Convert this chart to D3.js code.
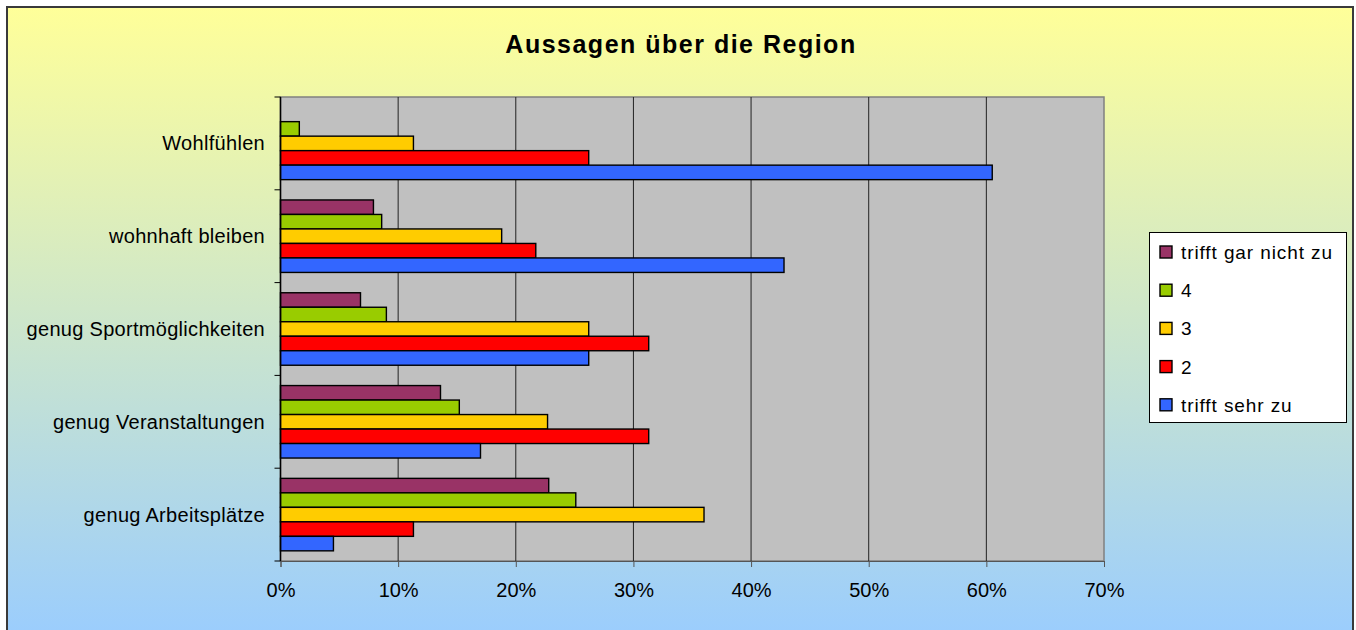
<!DOCTYPE html>
<html lang="de">
<head>
<meta charset="UTF-8">
<title>Aussagen über die Region</title>
<script src="https://cdn.jsdelivr.net/npm/d3@7"></script>
<style>
  body { margin: 0; background: #fff; }
  text { font-family: "Liberation Sans", Arial, sans-serif; fill: #000; }
</style>
</head>
<body>
<script>
// categories top to bottom
const categories = ["Wohlfühlen", "wohnhaft bleiben", "genug Sportmöglichkeiten", "genug Veranstaltungen", "genug Arbeitsplätze"];
// series, in legend order (top bar in each group first)
const seriesNames = ["trifft gar nicht zu", "4", "3", "2", "trifft sehr zu"];
const seriesColors = ["#993366", "#99CC00", "#FFCC00", "#FF0000", "#3366FF"];
// percent values per series, same order as categories
const garNicht = [0, 7.9, 6.8, 13.6, 22.8];
const vier = [1.6, 8.6, 9.0, 15.2, 25.1];
const drei = [11.3, 18.8, 26.2, 22.7, 36.0];
const zwei = [26.2, 21.7, 31.3, 31.3, 11.3];
const sehr = [60.5, 42.8, 26.2, 17.0, 4.5];
const seriesValues = [garNicht, vier, drei, zwei, sehr];
const xTicks = [0, 10, 20, 30, 40, 50, 60, 70];

const width = 1356, height = 630;
const plot = { left: 280.5, right: 1104, top: 97, bottom: 561 };

const svg = d3.select("body").append("svg")
  .attr("width", width).attr("height", height);

// background gradient
const grad = svg.append("defs").append("linearGradient")
  .attr("id", "bg").attr("x1", 0).attr("y1", 0).attr("x2", 0).attr("y2", 1);
grad.append("stop").attr("offset", "0%").attr("stop-color", "#FFFF99");
grad.append("stop").attr("offset", "100%").attr("stop-color", "#99CCFF");

svg.append("rect").attr("x", 7).attr("y", 7).attr("width", 1346).attr("height", 640)
  .attr("fill", "url(#bg)").attr("stroke", "#3a3a3a").attr("stroke-width", 2);

svg.append("text")
  .attr("x", 681).attr("y", 53)
  .attr("text-anchor", "middle")
  .style("font-size", "25px").style("font-weight", "bold").style("letter-spacing", "1.5px")
  .text("Aussagen über die Region");

const x = d3.scaleLinear().domain([0, 70]).range([plot.left, plot.right]);
const y = d3.scaleBand().domain(categories).range([plot.top, plot.bottom])
  .paddingInner(0.219).paddingOuter(0.1095);
const ySub = d3.scaleBand().domain(seriesNames).range([0, y.bandwidth()]);

// plot area
svg.append("rect")
  .attr("x", plot.left).attr("y", plot.top)
  .attr("width", plot.right - plot.left).attr("height", plot.bottom - plot.top)
  .attr("fill", "#C0C0C0").attr("stroke", "#808080").attr("stroke-width", 1.5);

// gridlines
svg.append("g").selectAll("line")
  .data(xTicks.slice(1, -1))
  .join("line")
  .attr("x1", d => x(d)).attr("x2", d => x(d))
  .attr("y1", plot.top).attr("y2", plot.bottom)
  .attr("stroke", "#222").attr("stroke-width", 1);

// bars
const groups = svg.append("g").selectAll("g")
  .data(categories)
  .join("g")
  .attr("transform", d => `translate(0,${y(d)})`);

groups.selectAll("rect")
  .data((c, ci) => seriesNames.map((s, si) => ({ s, si, v: seriesValues[si][ci] })).filter(d => d.v > 0))
  .join("rect")
  .attr("x", x(0))
  .attr("y", d => ySub(d.s))
  .attr("width", d => x(d.v) - x(0))
  .attr("height", ySub.bandwidth())
  .attr("fill", d => seriesColors[d.si])
  .attr("stroke", "#000").attr("stroke-width", 1.4);

// x axis
const xAxis = svg.append("g")
  .attr("transform", `translate(0,${plot.bottom})`)
  .call(d3.axisBottom(x).tickValues(xTicks).tickFormat(d => d + "%").tickSize(6).tickPadding(16));
xAxis.select(".domain").attr("stroke", "#555");
xAxis.selectAll(".tick line").attr("stroke", "#555");
xAxis.selectAll("text").style("font-size", "20px")
  .style("font-family", "'Liberation Sans', Arial, sans-serif");

// y axis line and ticks at category boundaries
const yBounds = categories.map(c => y(c) - y.step() * y.paddingInner() / 2)
  .concat([plot.bottom]);
svg.append("line")
  .attr("x1", plot.left).attr("x2", plot.left)
  .attr("y1", plot.top).attr("y2", plot.bottom)
  .attr("stroke", "#000").attr("stroke-width", 1.5);
svg.append("g").selectAll("line")
  .data(yBounds)
  .join("line")
  .attr("x1", plot.left - 6).attr("x2", plot.left)
  .attr("y1", d => d).attr("y2", d => d)
  .attr("stroke", "#000");

svg.append("g").selectAll("text")
  .data(categories)
  .join("text")
  .attr("x", 265)
  .attr("y", d => y(d) + y.bandwidth() / 2 + 7)
  .attr("text-anchor", "end")
  .style("font-size", "20px").style("letter-spacing", "0.3px")
  .text(d => d);

// legend
const legend = svg.append("g");
legend.append("rect")
  .attr("x", 1149.5).attr("y", 232.5).attr("width", 197).attr("height", 190)
  .attr("fill", "#fff").attr("stroke", "#000").attr("stroke-width", 1);

const rows = legend.selectAll("g.item")
  .data(seriesNames)
  .join("g")
  .attr("class", "item")
  .attr("transform", (d, i) => `translate(1160,${252 + i * 38.2})`);
rows.append("rect")
  .attr("x", 0).attr("y", -6).attr("width", 12).attr("height", 12)
  .attr("fill", (d, i) => seriesColors[i]).attr("stroke", "#000").attr("stroke-width", 1.4);
rows.append("text")
  .attr("x", 21).attr("y", 7)
  .style("font-size", "19px").style("letter-spacing", "0.9px")
  .text(d => d);
</script>
</body>
</html>
